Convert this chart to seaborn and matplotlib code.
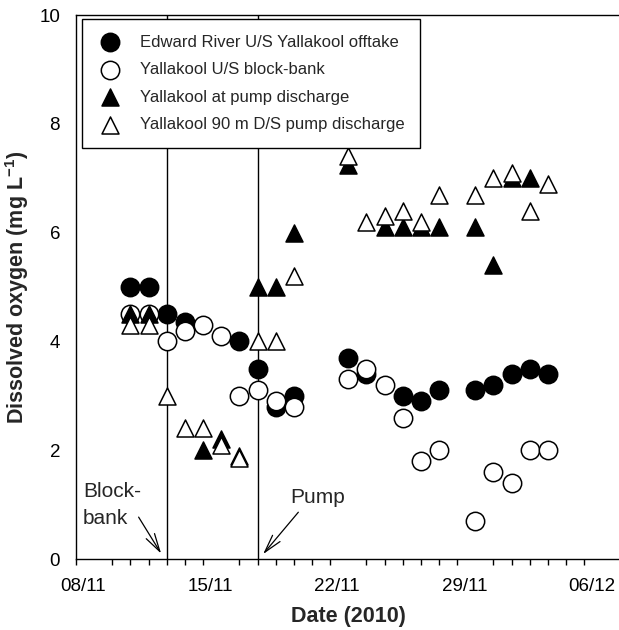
import numpy as np
import pandas as pd
import matplotlib
matplotlib.use("Agg")
import matplotlib.pyplot as plt
import matplotlib.dates as mdates
from matplotlib.transforms import ScaledTranslation
import seaborn as sns

# ---------------- data ----------------
edward_dates = ['2010-11-10', '2010-11-11', '2010-11-12', '2010-11-13', '2010-11-16',
                '2010-11-17', '2010-11-18', '2010-11-19', '2010-11-22', '2010-11-23',
                '2010-11-25', '2010-11-26', '2010-11-27', '2010-11-29', '2010-11-30',
                '2010-12-01', '2010-12-02', '2010-12-03']
edward_do = [5.0, 5.0, 4.5, 4.35, 4.0, 3.5, 2.8, 3.0, 3.7, 3.4, 3.0, 2.9, 3.1,
             3.1, 3.2, 3.4, 3.5, 3.4]

usbb_dates = ['2010-11-10', '2010-11-11', '2010-11-12', '2010-11-13', '2010-11-14',
              '2010-11-15', '2010-11-16', '2010-11-17', '2010-11-18', '2010-11-19',
              '2010-11-22', '2010-11-23', '2010-11-24', '2010-11-25', '2010-11-26',
              '2010-11-27', '2010-11-29', '2010-11-30', '2010-12-01', '2010-12-02',
              '2010-12-03']
usbb_do = [4.5, 4.5, 4.0, 4.2, 4.3, 4.1, 3.0, 3.1, 2.9, 2.8, 3.3, 3.5, 3.2, 2.6,
           1.8, 2.0, 0.7, 1.6, 1.4, 2.0, 2.0]

pump_dates = ['2010-11-10', '2010-11-11', '2010-11-14', '2010-11-15', '2010-11-16',
              '2010-11-17', '2010-11-18', '2010-11-19', '2010-11-22', '2010-11-24',
              '2010-11-25', '2010-11-26', '2010-11-27', '2010-11-29', '2010-11-30',
              '2010-12-01', '2010-12-02']
pump_do = [4.5, 4.5, 2.0, 2.2, 1.9, 5.0, 5.0, 6.0, 7.25, 6.1, 6.1, 6.1, 6.1, 6.1,
           5.4, 7.0, 7.0]

ds_dates = ['2010-11-10', '2010-11-11', '2010-11-12', '2010-11-13', '2010-11-14',
            '2010-11-15', '2010-11-16', '2010-11-17', '2010-11-18', '2010-11-19',
            '2010-11-22', '2010-11-23', '2010-11-24', '2010-11-25', '2010-11-26',
            '2010-11-27', '2010-11-29', '2010-11-30', '2010-12-01', '2010-12-02',
            '2010-12-03']
ds_do = [4.3, 4.3, 3.0, 2.4, 2.4, 2.1, 1.85, 4.0, 4.0, 5.2, 7.4, 6.2, 6.3, 6.4,
         6.2, 6.7, 6.7, 7.0, 7.1, 6.4, 6.9]

series_names = ['Edward River U/S Yallakool offtake', 'Yallakool U/S block-bank',
                'Yallakool at pump discharge', 'Yallakool 90 m D/S pump discharge']

event_dates = ['2010-11-12', '2010-11-17']
event_labels = ['Block-', 'bank', 'Pump']

tick_dates = ['2010-11-08', '2010-11-15', '2010-11-22', '2010-11-29', '2010-12-06']
tick_labels = ['08/11', '15/11', '22/11', '29/11', '06/12']
x_limits = ['2010-11-07', '2010-12-07']
y_ticks = [0, 2, 4, 6, 8, 10]

# ---------------- style ----------------
sns.set_style("white")
plt.rcParams['font.family'] = ['Liberation Sans', 'DejaVu Sans']
plt.rcParams['mathtext.fontset'] = 'custom'
plt.rcParams['mathtext.rm'] = 'Liberation Sans'
plt.rcParams['mathtext.bf'] = 'Liberation Sans:bold'
plt.rcParams['mathtext.it'] = 'Liberation Sans:italic'

W, H = 619, 630
fig = plt.figure(figsize=(W / 100, H / 100), dpi=100)
ax_l, ax_r, ax_t, ax_b = 76, 620.5, 15, 559
ax = fig.add_axes([ax_l / W, 1 - ax_b / H, (ax_r - ax_l) / W, (ax_b - ax_t) / H])

frames = [
    (edward_dates, edward_do, series_names[0], 'o', 'black', 175),
    (usbb_dates, usbb_do, series_names[1], 'o', 'white', 175),
    (pump_dates, pump_do, series_names[2], '^', 'black', 150),
    (ds_dates, ds_do, series_names[3], '^', 'white', 150),
]
for dates, vals, name, mk, fc, s in frames:
    df = pd.DataFrame({'date': pd.to_datetime(dates), 'do': vals})
    sns.scatterplot(data=df, x='date', y='do', marker=mk, s=s, color=fc,
                    edgecolor='black', linewidth=1.1, label=name, ax=ax,
                    zorder=3, legend=False)

for d in event_dates:
    ax.axvline(pd.Timestamp(d), color='black', lw=1.0, zorder=1)

ax.set_xlim(pd.Timestamp(x_limits[0]), pd.Timestamp(x_limits[1]))
ax.set_ylim(0, 10)
ax.set_yticks(y_ticks)
ax.set_yticklabels([str(v) for v in y_ticks])
ax.set_xticks(pd.to_datetime(tick_dates))
ax.set_xticklabels(tick_labels)
ax.xaxis.set_minor_locator(mdates.DayLocator())

ax.tick_params(axis='both', which='major', direction='out', length=6.5, width=1,
               labelsize=13.5, color='black', labelcolor='black')
ax.tick_params(axis='x', which='major', pad=7)
ax.tick_params(axis='y', which='major', pad=5)
ax.tick_params(axis='x', which='minor', direction='out', length=4.3, width=1,
               color='black', bottom=True)
offset = ScaledTranslation(-11 / 100, 0, fig.dpi_scale_trans)
for lab in ax.get_xticklabels():
    lab.set_transform(lab.get_transform() + offset)

for sp in ax.spines.values():
    sp.set_color('black')
    sp.set_linewidth(1.0)
    sp.set_visible(True)

ax.set_xlabel('Date (2010)', fontsize=15.5, fontweight='bold', labelpad=8)
ax.set_ylabel(r'Dissolved oxygen (mg L$^{\mathbf{-1}}$)', fontsize=15.5,
              fontweight='bold', labelpad=6)

# annotations
x0 = mdates.date2num(pd.Timestamp(tick_dates[0]))
ax.text(x0 - 0.62, 1.14, event_labels[0], fontsize=15, ha='left', va='baseline')
ax.text(x0 - 0.62, 0.64, event_labels[1], fontsize=15, ha='left', va='baseline')
ax.text(x0 + 10.8, 1.03, event_labels[2], fontsize=15, ha='left', va='baseline')
arrow = dict(arrowstyle='->,head_length=1.3,head_width=0.35', lw=0.9,
             color='black', shrinkA=0, shrinkB=0)
ax.annotate('', xy=(x0 + 3.69, 0.1), xytext=(x0 + 2.45, 0.77), arrowprops=arrow)
ax.annotate('', xy=(x0 + 9.31, 0.09), xytext=(x0 + 11.25, 0.86), arrowprops=arrow)

leg = ax.legend(loc='upper left', bbox_to_anchor=(6 / 544.5, 1 - 4 / 544),
                borderaxespad=0, fontsize=12, frameon=True, fancybox=False,
                edgecolor='black', framealpha=1, labelspacing=0.75,
                handlelength=1.45, handletextpad=1.08, borderpad=0.95,
                scatterpoints=1)
leg.get_frame().set_linewidth(1.0)

fig.savefig('out.png', dpi=100)
